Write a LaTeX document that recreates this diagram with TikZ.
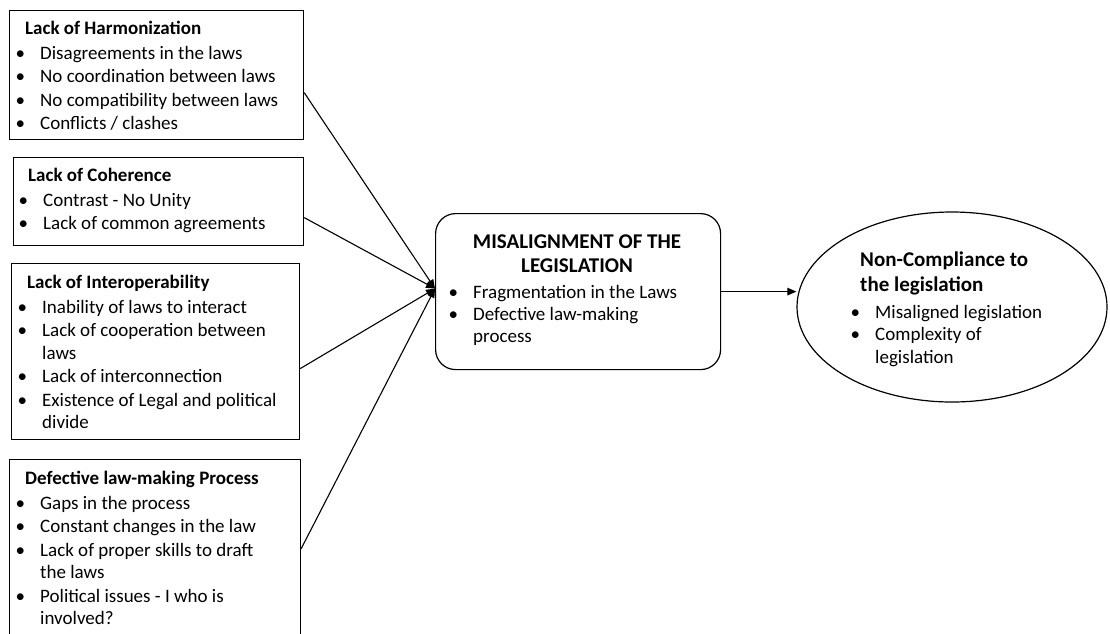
\documentclass[tikz,border=0pt]{standalone}
\usepackage{fontspec}
\setmainfont{Carlito}
\usetikzlibrary{arrows.meta,shapes.geometric,calc}
\newcommand{\bulitem}{\makebox[18pt][l]{\hspace*{-6.5pt}\textbullet}}
\newcommand{\contline}{\hspace*{18pt}}
\newcommand{\lstL}[1]{\begin{tabular}[t]{@{}l@{}}#1\end{tabular}}
\newcommand{\lstC}[1]{\begin{tabular}[t]{@{}c@{}}#1\end{tabular}}
\begin{document}
\begin{tikzpicture}[x=1pt,y=-1pt,
  box/.style={draw, line width=1.2pt, inner sep=0pt, anchor=north west},
  txt/.style={inner sep=0pt, anchor=base west, font=\fontsize{19}{22.5}\selectfont},
  head/.style={inner sep=0pt, font=\fontsize{21}{24.5}\selectfont\bfseries},
  arr/.style={line width=1.1pt, -{Triangle[length=9pt,width=7.5pt]}}]
\useasboundingbox (0,0) rectangle (1110,633);
\clip (0,0) rectangle (1110,633);
% boxes
\node[box, minimum width=294pt, minimum height=129pt] (b1) at (9,10) {};
\node[box, minimum width=290pt, minimum height=88pt] (b2) at (13,157) {};
\node[box, minimum width=288pt, minimum height=176pt] (b3) at (11,263) {};
\node[box, minimum width=291pt, minimum height=200pt] (b4) at (9,459) {};
\node[box, rounded corners=20pt, minimum width=285pt, minimum height=156pt] (mis) at (435,213) {};
\node[draw, line width=1.2pt, ellipse, inner sep=0pt, minimum width=310pt, minimum height=190pt] (ell) at (952,307) {};
% texts
\node[txt] (t1) at (22,34) {\lstL{\hspace*{3pt}\textbf{Lack of Harmonization}\\[2.5pt]
  \bulitem Disagreements in the laws\\[1pt]
  \bulitem No coordination between laws\\[1pt]
  \bulitem No compatibility between laws\\[1pt]
  \bulitem Conflicts / clashes}};
\node[txt] (t2) at (25,181) {\lstL{\hspace*{3pt}\textbf{Lack of Coherence}\\[2.5pt]
  \bulitem Contrast - No Unity\\[1pt]
  \bulitem Lack of common agreements}};
\node[txt] (t3) at (24,288) {\lstL{\hspace*{3pt}\textbf{Lack of Interoperability}\\[2.5pt]
  \bulitem Inability of laws to interact\\[1pt]
  \bulitem Lack of cooperation between\\
  \contline laws\\[1pt]
  \bulitem Lack of interconnection\\[1pt]
  \bulitem Existence of Legal and political\\
  \contline divide}};
\node[txt] (t4) at (22,484) {\lstL{\hspace*{3pt}\textbf{Defective law-making Process}\\[2.5pt]
  \bulitem Gaps in the process\\[1pt]
  \bulitem Constant changes in the law\\[1pt]
  \bulitem Lack of proper skills to draft\\
  \contline the laws\\[1pt]
  \bulitem Political issues - I who is\\
  \contline involved?}};
\node[head, anchor=base] (misT) at (577,248) {\lstC{MISALIGNMENT OF THE\\LEGISLATION}};
\node[txt, font=\fontsize{19}{22}\selectfont] (misB) at (455,298) {\lstL{\bulitem Fragmentation in the Laws\\
  \bulitem Defective law-making\\
  \contline process}};
\node[head, anchor=base west, font=\fontsize{21}{25}\selectfont\bfseries] (ellT) at (860,266) {\lstL{Non-Compliance to\\the legislation}};
\node[txt] (ellB) at (857,318) {\lstL{\bulitem Misaligned legislation\\
  \bulitem Complexity of\\
  \contline legislation}};
% connectors
\coordinate (conv) at ([yshift=3pt]mis.west);
\draw[arr] ([yshift=-17.5pt]b1.east) -- (conv);
\draw[arr] ([yshift=-16pt]b2.east) -- (conv);
\draw[arr] ([yshift=-17pt]b3.east) -- (conv);
\draw[arr] ([yshift=11pt]b4.east) -- (conv);
\draw[arr] (mis.east) -- (mis.east -| ell.west);
\end{tikzpicture}
\end{document}
